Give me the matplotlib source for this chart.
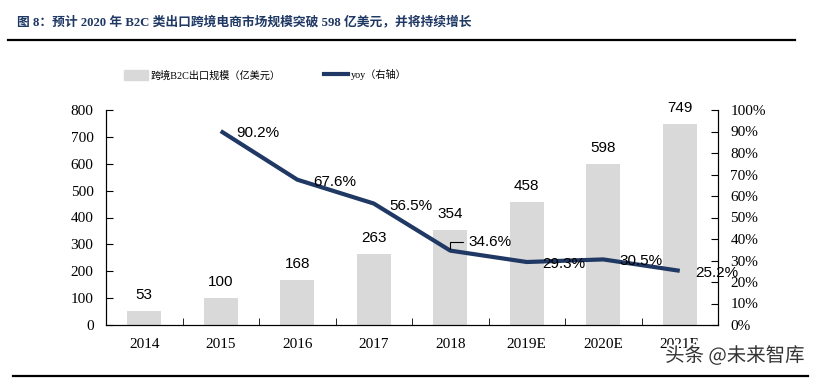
import matplotlib.pyplot as plt
from matplotlib.lines import Line2D
from matplotlib.patches import Patch
import matplotlib.patheffects as pe

plt.rcParams['font.family'] = ['Liberation Serif', 'Noto Sans CJK SC']

# data
years = ['2014', '2015', '2016', '2017', '2018', '2019E', '2020E', '2021E']
scale = [53, 100, 168, 263, 354, 458, 598, 749]      # 亿美元
yoy = [None, 90.2, 67.6, 56.5, 34.6, 29.3, 30.5, 25.2]  # %

navy = '#1f3864'
bar_grey = '#d9d9d9'

fig = plt.figure(figsize=(8.17, 3.78), dpi=100)
ax = fig.add_axes([106 / 817, 1 - 325 / 378, 612 / 817, 215 / 378])
ax2 = ax.twinx()

x = list(range(len(years)))
ax.bar(x, scale, width=0.44, color=bar_grey, zorder=1)
for xi, v in zip(x, scale):
    ax.annotate(str(v), (xi, v), xytext=(0, 16), textcoords='offset pixels',
                ha='center', va='center', fontsize=11, family='Liberation Sans')

ax.set_xlim(-0.5, 7.5)
ax.set_ylim(0, 800)
ax.set_yticks(range(0, 801, 100))
ax.set_xticks(x)
ax.set_xticklabels(years)
ax.set_xticks([i - 0.5 for i in range(9)], minor=True)
ax.tick_params(axis='x', which='major', length=0, pad=9, labelsize=11)
ax.tick_params(axis='x', which='minor', direction='in', length=5)
ax.tick_params(axis='y', direction='in', length=5, pad=9, labelsize=11)
ax.spines['top'].set_visible(False)

# yoy line on right axis
lx = [i for i, v in zip(x, yoy) if v is not None]
ly = [v for v in yoy if v is not None]
ax2.plot(lx, ly, color=navy, lw=3, solid_capstyle='butt', zorder=3)
for xi, v in zip(lx, ly):
    if v == 34.6:
        # this one sits a bit higher with a small leader line
        ax2.annotate(f'{v}%', (xi, v), xytext=(18, 9), textcoords='offset pixels',
                     ha='left', va='center', fontsize=11, family='Liberation Sans',
                     arrowprops=dict(arrowstyle='-', color='black', lw=0.8,
                                     connectionstyle='angle,angleA=0,angleB=90,rad=0',
                                     shrinkA=2, shrinkB=1.5))
    else:
        ax2.annotate(f'{v}%', (xi, v), xytext=(16, -2), textcoords='offset pixels',
                     ha='left', va='center', fontsize=11, family='Liberation Sans')
ax2.set_ylim(0, 100)
ax2.set_yticks(range(0, 101, 10))
ax2.set_yticklabels([f'{t}%' for t in range(0, 101, 10)])
ax2.tick_params(axis='y', direction='in', length=5, pad=9, labelsize=11)
ax2.spines['top'].set_visible(False)

# legend
handles = [Patch(color=bar_grey), Line2D([], [], color=navy, lw=3)]
labels = ['跨境B2C出口规模（亿美元）', 'yoy（右轴）']
fig.legend(handles, labels, loc='center left', bbox_to_anchor=(115 / 817, 1 - 75 / 378),
           ncol=2, frameon=False, fontsize=7.3, handlelength=2.4, handleheight=1.2,
           handletextpad=0.2, columnspacing=4.3)

# title and rules
fig.text(17 / 817, 1 - 22 / 378, '图 8：预计 2020 年 B2C 类出口跨境电商市场规模突破 598 亿美元，并将持续增长',
         fontsize=9.2, fontweight='bold', color=navy, va='center', ha='left')
fig.add_artist(Line2D([8 / 817, 795 / 817], [1 - 40 / 378] * 2, color='black', lw=1.6))
fig.add_artist(Line2D([13 / 817, 808 / 817], [1 - 376 / 378] * 2, color='black', lw=1.6))

fig.text(805 / 817, 1 - 356 / 378, '头条 @未来智库', fontsize=14, ha='right', va='center',
         color='#333333', family=['Noto Sans CJK SC'],
         path_effects=[pe.withStroke(linewidth=3, foreground='white')])

fig.savefig('out.png', dpi=100)
